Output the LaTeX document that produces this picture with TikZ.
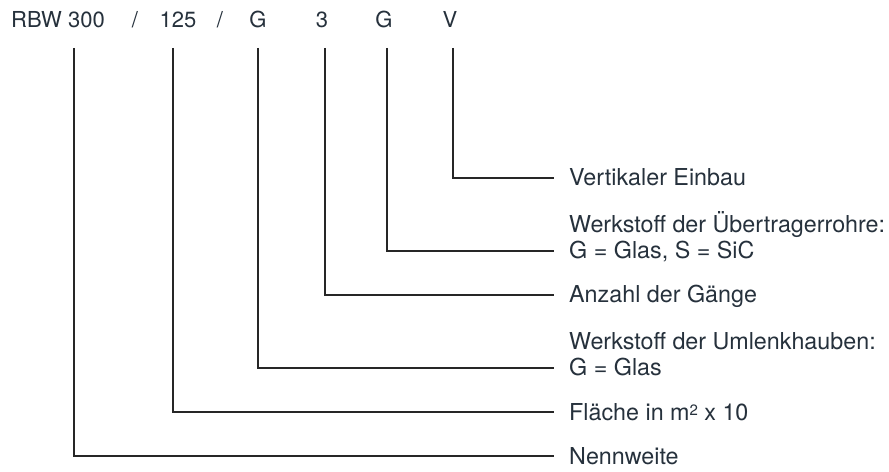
\documentclass[tikz,border=0pt]{standalone}
\usepackage{fontspec}
\setmainfont{TeX Gyre Heros}
\definecolor{txt}{HTML}{26313C}
\definecolor{ln}{HTML}{262626}
\begin{document}
\begin{tikzpicture}[x=1bp,y=-1bp,
  code/.style={anchor=base,inner sep=0pt,text=txt,font=\fontsize{22bp}{26bp}\selectfont},
  lab/.style={anchor=base west,inner sep=0pt,align=left,text=txt,font=\fontsize{23.3bp}{26bp}\selectfont},
  conn/.style={draw=ln,line width=2bp}]
\useasboundingbox (0,0) rectangle (889,472);
% code string
\node[code,anchor=base west] (c1) at (11,28) {RBW 300};
\node[code] (s1) at (135,28) {/};
\node[code] (c2) at (178,28) {125};
\node[code] (s2) at (220,28) {/};
\node[code] (c3) at (258,28) {G};
\node[code] (c4) at (322,28) {3};
\node[code] (c5) at (384,28) {G};
\node[code] (c6) at (450,28) {V};
% tops of the leader lines
\coordinate (t1) at (74,48);
\coordinate (t2) at (173,48);
\coordinate (t3) at (258,48);
\coordinate (t4) at (325,48);
\coordinate (t5) at (387,48);
\coordinate (t6) at (453,48);
% labels (base = baseline of the last line)
\node[lab] (l1) at (569,186) {Vertikaler Einbau};
\node[lab] (l2) at (569,259) {Werkstoff der Übertragerrohre:\\G = Glas, S = SiC};
\node[lab] (l3) at (569,303) {Anzahl der Gänge};
\node[lab] (l4) at (569,376) {Werkstoff der Umlenkhauben:\\G = Glas};
\node[lab] (l5) at (569,420) {Fläche in m{\fontsize{15bp}{15bp}\selectfont\raisebox{5bp}{2}} x 10};
\node[lab] (l6) at (569,464) {Nennweite};
% ends of the leader lines
\coordinate (e1) at (554,178);
\coordinate (e2) at (554,251);
\coordinate (e3) at (554,295);
\coordinate (e4) at (554,368);
\coordinate (e5) at (554,412);
\coordinate (e6) at (554,456);
\draw[conn] (t6) |- (e1);
\draw[conn] (t5) |- (e2);
\draw[conn] (t4) |- (e3);
\draw[conn] (t3) |- (e4);
\draw[conn] (t2) |- (e5);
\draw[conn] (t1) |- (e6);
\end{tikzpicture}
\end{document}
